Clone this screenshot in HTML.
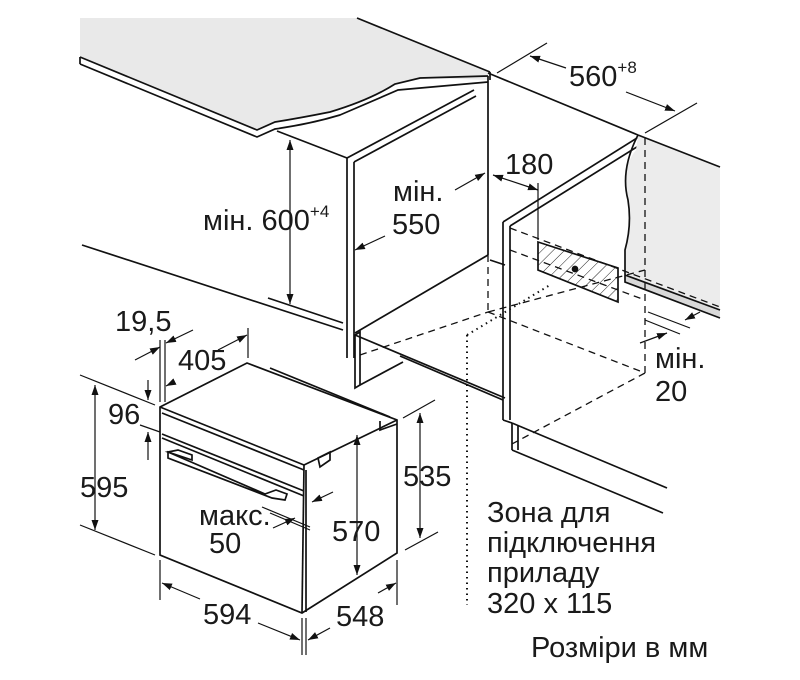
<!DOCTYPE html>
<html><head><meta charset="utf-8"><style>
html,body{margin:0;padding:0;background:#fff;}
svg{display:block}
text{font-family:"Liberation Sans","DejaVu Sans",sans-serif;fill:#1a1a1a;}
</style></head><body>
<svg width="800" height="680" viewBox="0 0 800 680" xmlns="http://www.w3.org/2000/svg">
<defs>
<marker id="a" viewBox="0 0 10 10" refX="10" refY="5" markerWidth="10" markerHeight="10" orient="auto-start-reverse" markerUnits="userSpaceOnUse"><path d="M0,1.5 L10,5 L0,8.5 z" fill="#111"/></marker>
<pattern id="h" width="8" height="8" patternUnits="userSpaceOnUse" patternTransform="rotate(45)"><line x1="0" y1="0" x2="0" y2="8" stroke="#222" stroke-width="1"/></pattern>
</defs>
<g stroke="#111" stroke-width="1.7" fill="none">
<path d="M80,18 L357,18 L490,72 L488,80 L420,78 L395,84 Q370,100 330,112 Q300,118 275,122 L257,130 L80,57 Z" fill="#e9e9e9" stroke="none"/>
<path d="M80,57 L257,130 L275,122 Q300,118 330,112 Q370,100 395,84 L420,78 L488,76"/>
<path d="M80,64 L257,137 L275,129 Q310,124 340,115 Q375,100 398,90 L488,82"/>
<line x1="80" y1="57" x2="80" y2="64"/>
<line x1="357" y1="18" x2="490" y2="72"/>
<line x1="490" y1="72" x2="490" y2="80"/>
<line x1="277" y1="131" x2="347" y2="158"/>
<line x1="347" y1="158" x2="347" y2="358"/>
<line x1="354" y1="162" x2="354" y2="358"/>
<line x1="347" y1="158" x2="474" y2="90"/>
<line x1="354" y1="162" x2="476" y2="96"/>
<line x1="488" y1="76" x2="488" y2="255"/>
<line x1="355" y1="333" x2="488" y2="255"/>
<line x1="82" y1="245" x2="343" y2="330"/>
<line x1="268" y1="298" x2="343" y2="323"/>
<path d="M355,335 L360,332 L360,385 L355,388 Z"/>
<line x1="355" y1="335" x2="505" y2="398"/>
<line x1="360" y1="385" x2="403" y2="362"/>
<line x1="490" y1="260" x2="505" y2="265"/>
<line x1="488" y1="73" x2="638" y2="135"/>
<line x1="503" y1="222" x2="637" y2="138"/>
<line x1="510" y1="226" x2="640" y2="145"/>
<line x1="503" y1="222" x2="503" y2="420"/>
<line x1="510" y1="226" x2="510" y2="420"/>
<line x1="503" y1="420" x2="512" y2="423"/>
<line x1="512" y1="423" x2="512" y2="450"/>
<line x1="518" y1="425" x2="518" y2="450"/>
<line x1="512" y1="423" x2="667" y2="488"/>
<line x1="512" y1="450" x2="663" y2="513"/>
<line x1="400" y1="356" x2="503" y2="400"/>
<path d="M638,135 L720,167 L720,310 L625,275 L625,250 Q632,225 628,200 Q620,170 636,150 Z" fill="#ececec" stroke="none"/>
<path d="M638,135 Q620,170 628,200 Q632,225 625,250 L625,275"/>
<line x1="638" y1="135" x2="720" y2="167"/>
<path d="M625,282 L720,318 L720,310 L625,275Z" fill="#d9d9d9" stroke="none"/>
<line x1="625" y1="275" x2="720" y2="310"/>
<path d="M625,275 L625,282 L720,318"/>
<path d="M538,242 L618,268 L618,302 L538,270 Z" fill="url(#h)"/>
<circle cx="575" cy="269" r="2.5" fill="#111"/>
<g stroke-dasharray="7,5" stroke-width="1.3">
<line x1="488" y1="255" x2="488" y2="312"/>
<line x1="645" y1="138" x2="645" y2="373"/>
<line x1="488" y1="312" x2="645" y2="373"/>
<line x1="510" y1="228" x2="720" y2="307"/>
<line x1="510" y1="250" x2="645" y2="300"/>
<line x1="645" y1="373" x2="510" y2="445"/>
<line x1="360" y1="355" x2="488" y2="312"/>
<line x1="488" y1="312" x2="645" y2="270"/>
</g>
<g stroke-dasharray="1.5,4" stroke-width="2">
<line x1="467" y1="335" x2="467" y2="605"/>
<line x1="467" y1="335" x2="550" y2="285"/>
</g>
<path d="M160,407 L247,363 L397,420 L397,553 L302,613 L160,555 Z" fill="#fff"/>
<line x1="160" y1="407" x2="304" y2="465"/>
<line x1="304" y1="465" x2="397" y2="420"/>
<line x1="304" y1="465" x2="302" y2="613"/>
<line x1="306" y1="470" x2="306" y2="612"/>
<line x1="162" y1="413" x2="304" y2="470"/>
<line x1="162" y1="434" x2="304" y2="491"/>
<line x1="162" y1="438" x2="304" y2="496"/>
<path d="M168,452 L178,450 L192,455 L192,460 Z"/>
<path d="M168,452 L265,494 L276,490 L287,494 L285,500 L272,498 L168,458 Z"/>
<path d="M318,458 L330,452 L330,460 L320,467 Z"/>
<line x1="270" y1="368" x2="390" y2="417"/>
<path d="M380,421 L380,430 L397,424"/>
<g stroke-width="1.2">
<line x1="290" y1="140" x2="290" y2="304" marker-start="url(#a)" marker-end="url(#a)"/>
<line x1="355" y1="250" x2="385" y2="236" marker-start="url(#a)"/>
<line x1="455" y1="190" x2="485" y2="173" marker-end="url(#a)"/>
<line x1="493" y1="175" x2="538" y2="190" marker-start="url(#a)" marker-end="url(#a)"/>
<line x1="538" y1="183" x2="538" y2="240"/>
<line x1="497" y1="73" x2="547" y2="43"/>
<line x1="645" y1="133" x2="697" y2="103"/>
<line x1="530" y1="56" x2="566" y2="68" marker-start="url(#a)"/>
<line x1="626" y1="92" x2="675" y2="111" marker-end="url(#a)"/>
<line x1="648" y1="312" x2="690" y2="328"/>
<line x1="645" y1="320" x2="680" y2="334"/>
<line x1="700" y1="312" x2="685" y2="320" marker-end="url(#a)"/>
<line x1="640" y1="343" x2="667" y2="333" marker-end="url(#a)"/>
<line x1="160" y1="340" x2="160" y2="402"/>
<line x1="165" y1="340" x2="165" y2="402"/>
<line x1="135" y1="360" x2="160" y2="347" marker-end="url(#a)"/>
<line x1="193" y1="330" x2="166" y2="343" marker-end="url(#a)"/>
<line x1="248" y1="328" x2="248" y2="358"/>
<line x1="218" y1="350" x2="247" y2="335" marker-end="url(#a)"/>
<line x1="172" y1="383" x2="166" y2="386" marker-end="url(#a)"/>
<line x1="80" y1="375" x2="155" y2="405"/>
<line x1="80" y1="525" x2="155" y2="555"/>
<line x1="95" y1="385" x2="95" y2="530" marker-start="url(#a)" marker-end="url(#a)"/>
<line x1="148" y1="380" x2="148" y2="400" marker-end="url(#a)"/>
<line x1="140" y1="425" x2="160" y2="432"/>
<line x1="148" y1="460" x2="148" y2="432" marker-end="url(#a)"/>
<line x1="160" y1="560" x2="160" y2="600"/>
<line x1="302" y1="618" x2="302" y2="655"/>
<line x1="306" y1="618" x2="306" y2="655"/>
<line x1="397" y1="560" x2="397" y2="605"/>
<line x1="162" y1="583" x2="200" y2="599" marker-start="url(#a)"/>
<line x1="258" y1="623" x2="300" y2="640" marker-end="url(#a)"/>
<line x1="308" y1="640" x2="330" y2="628" marker-start="url(#a)"/>
<line x1="378" y1="593" x2="396" y2="583" marker-end="url(#a)"/>
<line x1="357" y1="435" x2="357" y2="575" marker-start="url(#a)" marker-end="url(#a)"/>
<line x1="403" y1="418" x2="435" y2="400"/>
<line x1="405" y1="550" x2="438" y2="532"/>
<line x1="420" y1="413" x2="420" y2="538" marker-start="url(#a)" marker-end="url(#a)"/>
<line x1="262" y1="507" x2="310" y2="527"/>
<line x1="270" y1="513" x2="310" y2="530"/>
<line x1="333" y1="492" x2="312" y2="502" marker-end="url(#a)"/>
<line x1="273" y1="528" x2="295" y2="518" marker-end="url(#a)"/>
</g>
</g>
<g font-size="29">
<text x="203" y="230">мін. 600<tspan font-size="17" dy="-13">+4</tspan></text>
<text x="393" y="201">мін.</text>
<text x="392" y="234">550</text>
<text x="505" y="174">180</text>
<text x="569" y="86">560<tspan font-size="17" dy="-13">+8</tspan></text>
<text x="655" y="368">мін.</text>
<text x="655" y="401">20</text>
<text x="115" y="331">19,5</text>
<text x="178" y="370">405</text>
<text x="108" y="424">96</text>
<text x="80" y="497">595</text>
<text x="199" y="525">макс.</text>
<text x="209" y="553">50</text>
<text x="332" y="541">570</text>
<text x="403" y="486">535</text>
<text x="203" y="624">594</text>
<text x="336" y="626">548</text>
<text x="487" y="522">Зона для</text>
<text x="487" y="552">підключення</text>
<text x="487" y="582">приладу</text>
<text x="487" y="613">320 x 115</text>
<text x="531" y="657">Розміри в мм</text>
</g>
</svg>
</body></html>
